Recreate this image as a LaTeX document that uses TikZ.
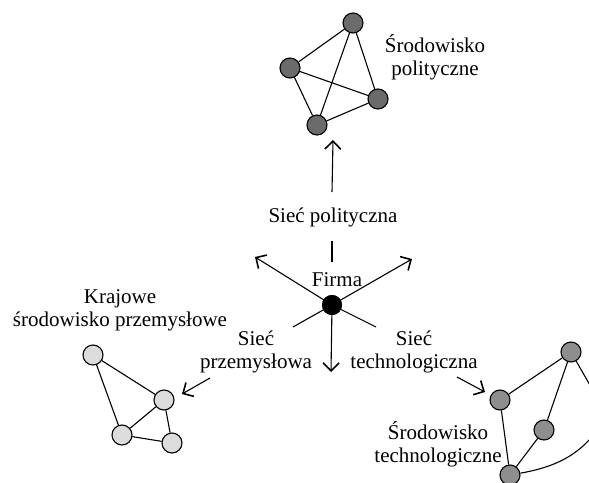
\documentclass[tikz,border=0pt]{standalone}
\usepackage{fontspec}
\setmainfont{Liberation Serif}
\usetikzlibrary{arrows.meta}
\definecolor{polgray}{HTML}{6B6B6B}
\definecolor{techgray}{HTML}{8E8E8E}
\definecolor{indgray}{HTML}{DCDCDC}
\begin{document}
\begin{tikzpicture}[x=1pt,y=-1pt,
  dot/.style={circle, draw, line width=1.1pt, minimum size=20pt, inner sep=0pt},
  edge/.style={line width=1.1pt},
  arr/.style={line width=1.1pt, -{Straight Barb[length=8pt,width=16pt,line width=1.6pt]}},
  txt/.style={font=\fontsize{21}{23}\selectfont, align=center, inner sep=0pt}]
\useasboundingbox (0,0) rectangle (589,482);
\clip (0,0) rectangle (589,482);

% political cluster
\node[dot, fill=polgray] (pt) at (353,23) {};
\node[dot, fill=polgray] (pl) at (290,68) {};
\node[dot, fill=polgray] (pr) at (378,99) {};
\node[dot, fill=polgray] (pb) at (317,125) {};
\draw[edge] (pt) -- (pl);
\draw[edge] (pt) -- (pr);
\draw[edge] (pt) -- (pb);
\draw[edge] (pl) -- (pb);
\draw[edge] (pl) -- (pr);
\draw[edge] (pb) -- (pr);
\node[txt] (polt) at (435,57) {Środowisko\\polityczne};

% industrial cluster
\node[dot, fill=indgray] (ia) at (93,355) {};
\node[dot, fill=indgray] (ib) at (164,400) {};
\node[dot, fill=indgray] (ic) at (122,435) {};
\node[dot, fill=indgray] (id) at (172,443) {};
\draw[edge] (ia) -- (ib);
\draw[edge] (ia) -- (ic);
\draw[edge] (ib) -- (ic);
\draw[edge] (ib) -- (id);
\draw[edge] (ic) -- (id);
\node[txt] (indt) at (120,310) {Krajowe\\środowisko przemysłowe};

% technological cluster
\node[dot, fill=techgray] (rt) at (571,352) {};
\node[dot, fill=techgray] (rl) at (500,400) {};
\node[dot, fill=techgray] (rm) at (544,430) {};
\node[dot, fill=techgray] (rb) at (510,475) {};
\coordinate (off) at (607,415);
\draw[edge] (rt) -- (rl);
\draw[edge] (rt) -- (rm);
\draw[edge] (rm) -- (rb);
\draw[edge] (rl) -- (rb);
\draw[edge] (rt) -- (off);
\draw[edge] (rb) .. controls (555,467) and (585,455) .. (off);
\node[txt] (techt) at (438,444) {Środowisko\\technologiczne};

% firm
\node[circle, fill=black, minimum size=20pt, inner sep=0pt] (f) at (332,305) {};
\node[txt] (fl) at (337,280) {Firma};
\node[txt] (sp) at (333,217) {Sieć polityczna};
\node[txt] (si) at (256,352) {Sieć\\przemysłowa};
\node[txt] (st) at (414,352) {Sieć\\technologiczna};

\coordinate (v1) at (332,262);
\coordinate (v2) at (332,241);
\coordinate (v3) at (332,192);
\coordinate (v4) at (333,140);
\coordinate (ul) at (255,257);
\coordinate (ur) at (412,259);
\coordinate (ll) at (293,327);
\coordinate (lr) at (376,327);
\coordinate (dn) at (331,372);
\coordinate (ia1) at (210,378);
\coordinate (ia2) at (182,394);
\coordinate (ta1) at (457,377);
\coordinate (ta2) at (485,392);

\draw[edge] (v1) -- (v2);
\draw[arr] (v3) -- (v4);
\draw[arr] (f.center) -- (ul);
\draw[arr] (f.center) -- (ur);
\draw[edge] (f.center) -- (ll);
\draw[edge] (f.center) -- (lr);
\draw[arr] (f.center) -- (dn);
\draw[arr] (ia1) -- (ia2);
\draw[arr] (ta1) -- (ta2);
\node[circle, fill=black, minimum size=20pt, inner sep=0pt] at (f) {};
\end{tikzpicture}
\end{document}
